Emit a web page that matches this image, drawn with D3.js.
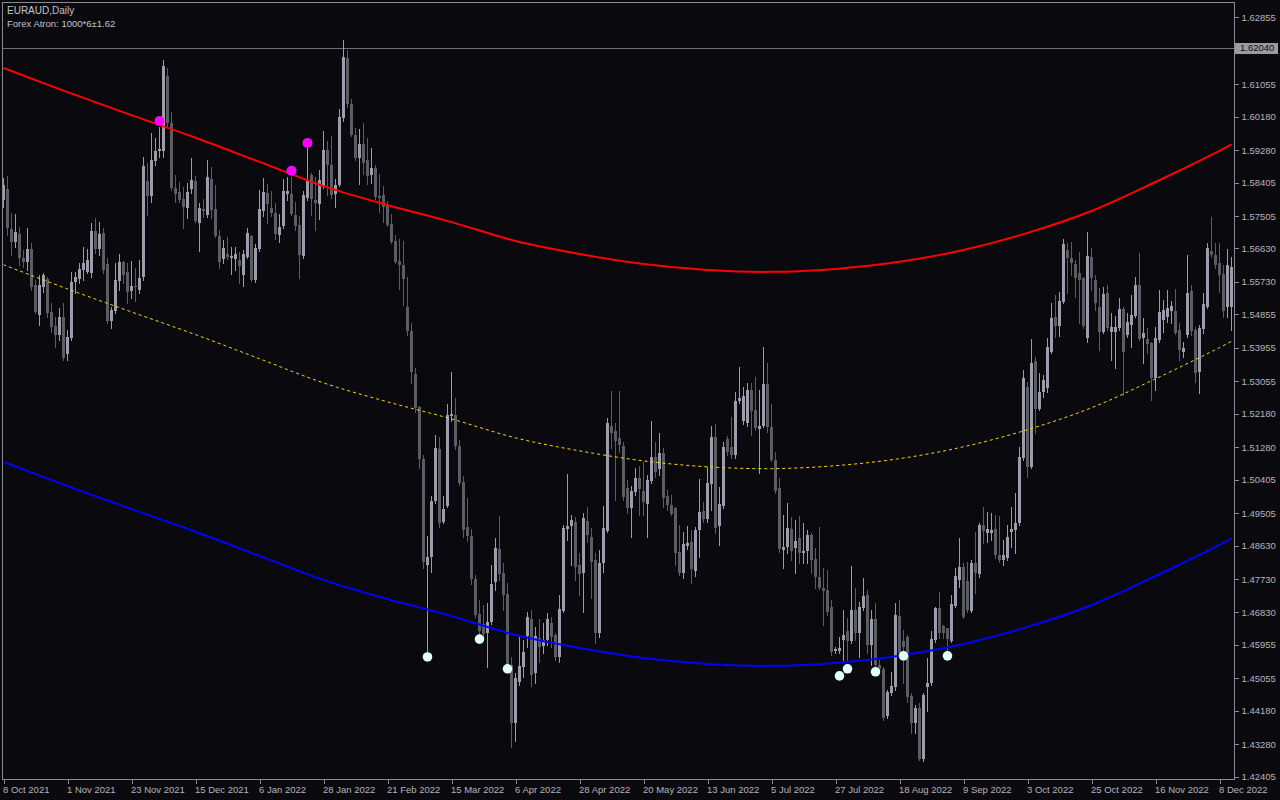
<!DOCTYPE html>
<html><head><meta charset="utf-8">
<script src="https://cdn.jsdelivr.net/npm/d3@7"></script>
<style>html,body{margin:0;padding:0;background:#0a0a0e;}svg{display:block;}</style>
</head><body><svg id="c" width="1280" height="800"></svg>
<script>
// ---------- DATA ----------
const symbolTitle = "EURAUD,Daily";
const indicatorTitle = "Forex Atron: 1000*6\u00b11.62";

const opens = [
1.5794,1.5823,1.5716,1.5680,1.5702,1.5637,1.5627,1.5662,1.5565,1.5484,
1.5559,1.5581,1.5492,1.5454,1.5430,1.5478,1.5379,1.5422,1.5573,1.5581,
1.5605,1.5600,1.5597,1.5710,1.5662,1.5705,1.5621,1.5468,1.5495,1.5575,
1.5627,1.5600,1.5548,1.5562,1.5551,1.5586,1.5845,1.5804,1.5899,1.5926,
1.5926,1.6127,1.6001,1.5826,1.5815,1.5796,1.5772,1.5823,1.5845,1.5732,
1.5769,1.5753,1.5850,1.5769,1.5697,1.5635,1.5648,1.5637,1.5635,1.5632,
1.5592,1.5640,1.5697,1.5578,1.5662,1.5764,1.5812,1.5772,1.5759,1.5699,
1.5724,1.5810,1.5810,1.5753,1.5726,1.5643,1.5799,1.5861,1.5794,1.5783,
1.5831,1.5928,1.5888,1.5810,1.5834,1.6014,1.6176,1.6052,1.5969,1.5907,
1.5944,1.5901,1.5861,1.5880,1.5804,1.5807,1.5778,1.5729,1.5683,1.5629,
1.5618,1.5505,1.5441,1.5325,1.5236,1.5096,1.4811,1.4832,1.4983,1.5123,
1.4927,1.4970,1.5212,1.5215,1.5131,1.5034,1.4913,1.4889,1.4773,1.4679,
1.4652,1.4627,1.4657,1.4765,1.4854,1.4789,1.4732,1.4541,1.4385,1.4496,
1.4536,1.4619,1.4665,1.4520,1.4614,1.4593,1.4609,1.4655,1.4622,1.4563,
1.4687,1.4908,1.4916,1.4927,1.4811,1.4789,1.4929,1.4886,1.4824,1.4627,
1.4816,1.4902,1.5185,1.5172,1.5153,1.5131,1.5018,1.4964,1.5007,1.5045,
1.5010,1.4975,1.5037,1.5102,1.5069,1.5112,1.4997,1.4972,1.4964,1.4846,
1.4789,1.4862,1.4873,1.4795,1.4905,1.4957,1.4935,1.5029,1.5155,1.4916,
1.4970,1.5150,1.5128,1.5107,1.5252,1.5198,1.5193,1.5282,1.5228,1.5177,
1.5185,1.5298,1.5182,1.5093,1.5018,1.4851,1.4859,1.4908,1.4856,1.4883,
1.4843,1.4849,1.4892,1.4827,1.4778,1.4749,1.4743,1.4697,1.4579,1.4579,
1.4609,1.4633,1.4606,1.4689,1.4627,1.4695,1.4730,1.4595,1.4665,1.4541,
1.4531,1.4404,1.4466,1.4482,1.4673,1.4606,1.4617,1.4458,1.4385,1.4426,
1.4288,1.4482,1.4493,1.4609,1.4695,1.4646,1.4641,1.4606,1.4700,1.4770,
1.4805,1.4768,1.4687,1.4816,1.4786,1.4918,1.4897,1.4897,1.4908,1.4838,
1.4824,1.4829,1.4900,1.4905,1.4924,1.5099,1.5290,1.5075,1.5360,1.5231,
1.5276,1.5287,1.5384,1.5478,1.5454,1.5519,1.5659,1.5637,1.5621,1.5597,
1.5583,1.5422,1.5640,1.5578,1.5505,1.5438,1.5543,1.5438,1.5438,1.5449,
1.5500,1.5430,1.5457,1.5481,1.5565,1.5422,1.5419,1.5409,1.5314,1.5417,
1.5470,1.5478,1.5495,1.5495,1.5443,1.5384,1.5430,1.5548,1.5443,1.5330,
1.5446,1.5505,1.5656,1.5645,1.5624,1.5594,1.5505,1.5505];

const highs = [
1.5853,1.5858,1.5759,1.5756,1.5721,1.5659,1.5718,1.5678,1.5578,1.5592,
1.5597,1.5586,1.5516,1.5478,1.5503,1.5516,1.5443,1.5600,1.5600,1.5624,
1.5667,1.5662,1.5732,1.5745,1.5734,1.5718,1.5637,1.5505,1.5624,1.5648,
1.5629,1.5624,1.5629,1.5610,1.5632,1.5909,1.5893,1.5974,1.5961,1.5990,
1.6171,1.6149,1.6031,1.5861,1.5842,1.5828,1.5839,1.5907,1.5858,1.5785,
1.5796,1.5901,1.5882,1.5834,1.5713,1.5686,1.5694,1.5667,1.5667,1.5654,
1.5659,1.5718,1.5699,1.5675,1.5820,1.5853,1.5837,1.5818,1.5785,1.5756,
1.5850,1.5855,1.5855,1.5788,1.5751,1.5818,1.5939,1.5866,1.5855,1.5874,
1.5979,1.5952,1.5966,1.5850,1.6039,1.6224,1.6198,1.6066,1.5987,1.5985,
1.6001,1.5961,1.5933,1.5888,1.5863,1.5831,1.5791,1.5756,1.5699,1.5689,
1.5683,1.5586,1.5462,1.5341,1.5239,1.5107,1.4889,1.4997,1.5161,1.5155,
1.4997,1.5244,1.5330,1.5260,1.5147,1.5050,1.4991,1.4908,1.4784,1.4716,
1.4703,1.4708,1.4811,1.4884,1.4943,1.4816,1.4762,1.4563,1.4520,1.4617,
1.4609,1.4684,1.4689,1.4644,1.4665,1.4655,1.4681,1.4671,1.4628,1.4730,
1.4918,1.5056,1.4946,1.4940,1.4843,1.4951,1.4967,1.4910,1.4843,1.4851,
1.4970,1.5207,1.5279,1.5193,1.5279,1.5142,1.5040,1.5024,1.5072,1.5078,
1.5088,1.5053,1.5198,1.5142,1.5166,1.5126,1.5013,1.4999,1.4967,1.4919,
1.4900,1.4916,1.4905,1.4913,1.5042,1.4981,1.5075,1.5185,1.5190,1.5021,
1.5142,1.5158,1.5209,1.5276,1.5344,1.5290,1.5301,1.5301,1.5317,1.5282,
1.5398,1.5355,1.5244,1.5115,1.5045,1.4945,1.4978,1.4940,1.4932,1.4943,
1.4924,1.4905,1.4897,1.4856,1.4913,1.4802,1.4797,1.4716,1.4590,1.4617,
1.4689,1.4668,1.4808,1.4749,1.4711,1.4776,1.4743,1.4689,1.4708,1.4555,
1.4536,1.4474,1.4523,1.4708,1.4716,1.4636,1.4622,1.4466,1.4434,1.4439,
1.4466,1.4560,1.4633,1.4697,1.4738,1.4649,1.4641,1.4730,1.4802,1.4883,
1.4816,1.4819,1.4824,1.4900,1.4924,1.4967,1.4954,1.4951,1.4946,1.4943,
1.4878,1.4918,1.4967,1.5005,1.5128,1.5336,1.5303,1.5419,1.5371,1.5328,
1.5322,1.5422,1.5516,1.5538,1.5546,1.5688,1.5678,1.5680,1.5632,1.5654,
1.5586,1.5707,1.5664,1.5592,1.5556,1.5559,1.5565,1.5489,1.5481,1.5530,
1.5505,1.5489,1.5538,1.5586,1.5651,1.5476,1.5449,1.5411,1.5452,1.5551,
1.5524,1.5551,1.5522,1.5554,1.5462,1.5411,1.5645,1.5565,1.5452,1.5457,
1.5543,1.5678,1.5748,1.5678,1.5678,1.5618,1.5662,1.5640];

const lows = [
1.5775,1.5699,1.5645,1.5667,1.5618,1.5613,1.5605,1.5551,1.5489,1.5457,
1.5546,1.5478,1.5438,1.5398,1.5417,1.5363,1.5363,1.5417,1.5543,1.5570,
1.5578,1.5597,1.5586,1.5651,1.5645,1.5597,1.5462,1.5449,1.5489,1.5551,
1.5570,1.5516,1.5530,1.5522,1.5543,1.5578,1.5753,1.5788,1.5888,1.5909,
1.5909,1.5990,1.5820,1.5788,1.5788,1.5718,1.5745,1.5812,1.5734,1.5656,
1.5748,1.5748,1.5745,1.5694,1.5610,1.5624,1.5635,1.5594,1.5605,1.5570,
1.5562,1.5637,1.5575,1.5573,1.5656,1.5751,1.5732,1.5751,1.5689,1.5680,
1.5718,1.5794,1.5753,1.5713,1.5583,1.5637,1.5794,1.5753,1.5713,1.5743,
1.5826,1.5807,1.5799,1.5775,1.5831,1.6006,1.6044,1.5966,1.5901,1.5837,
1.5864,1.5837,1.5839,1.5796,1.5761,1.5734,1.5724,1.5678,1.5624,1.5554,
1.5511,1.5430,1.5301,1.5223,1.5072,1.4802,1.4568,1.4792,1.4978,1.4913,
1.4924,1.4967,1.5199,1.5123,1.5026,1.4886,1.4875,1.4759,1.4670,1.4622,
1.4609,1.4536,1.4652,1.4743,1.4770,1.4689,1.4528,1.4320,1.4337,1.4488,
1.4509,1.4590,1.4485,1.4493,1.4550,1.4574,1.4595,1.4590,1.4555,1.4550,
1.4684,1.4878,1.4811,1.4770,1.4730,1.4684,1.4873,1.4722,1.4600,1.4617,
1.4792,1.4900,1.5126,1.4986,1.5115,1.4986,1.4951,1.4886,1.4999,1.4945,
1.4945,1.4886,1.5032,1.5048,1.5053,1.4967,1.4959,1.4945,1.4811,1.4784,
1.4776,1.4854,1.4762,1.4781,1.4832,1.4927,1.4927,1.4959,1.4897,1.4865,
1.4964,1.5107,1.5099,1.5099,1.5247,1.5190,1.5185,1.5161,1.5174,1.5058,
1.5182,1.5169,1.5091,1.5005,1.4846,1.4802,1.4843,1.4824,1.4789,1.4816,
1.4816,1.4816,1.4789,1.4749,1.4746,1.4649,1.4676,1.4568,1.4574,1.4574,
1.4555,1.4555,1.4601,1.4609,1.4563,1.4689,1.4574,1.4541,1.4533,1.4522,
1.4393,1.4399,1.4461,1.4474,1.4568,1.4493,1.4442,1.4358,1.4358,1.4286,
1.4283,1.4417,1.4488,1.4603,1.4614,1.4614,1.4574,1.4603,1.4697,1.4751,
1.4668,1.4684,1.4684,1.4735,1.4778,1.4870,1.4873,1.4878,1.4829,1.4819,
1.4811,1.4824,1.4859,1.4843,1.4918,1.5093,1.5048,1.5072,1.5166,1.5228,
1.5263,1.5276,1.5382,1.5425,1.5427,1.5516,1.5543,1.5592,1.5532,1.5462,
1.5449,1.5411,1.5551,1.5497,1.5390,1.5435,1.5443,1.5363,1.5341,1.5443,
1.5268,1.5425,1.5398,1.5478,1.5417,1.5355,1.5382,1.5255,1.5282,1.5411,
1.5438,1.5465,1.5462,1.5432,1.5363,1.5371,1.5425,1.5430,1.5303,1.5274,
1.5435,1.5503,1.5640,1.5610,1.5546,1.5478,1.5478,1.5443];

const closes = [
1.5834,1.5718,1.5680,1.5707,1.5637,1.5627,1.5662,1.5559,1.5492,1.5565,
1.5592,1.5489,1.5452,1.5430,1.5478,1.5368,1.5425,1.5573,1.5586,1.5608,
1.5624,1.5632,1.5710,1.5662,1.5702,1.5605,1.5468,1.5497,1.5578,1.5627,
1.5592,1.5546,1.5562,1.5559,1.5583,1.5885,1.5804,1.5901,1.5926,1.5931,
1.6154,1.6001,1.5826,1.5810,1.5794,1.5775,1.5815,1.5847,1.5737,1.5772,
1.5764,1.5855,1.5767,1.5697,1.5627,1.5664,1.5640,1.5643,1.5648,1.5616,
1.5648,1.5705,1.5578,1.5664,1.5769,1.5815,1.5783,1.5759,1.5702,1.5721,
1.5818,1.5818,1.5756,1.5724,1.5645,1.5807,1.5847,1.5796,1.5785,1.5847,
1.5928,1.5888,1.5807,1.5834,1.6017,1.6179,1.6052,1.5969,1.5907,1.5944,
1.5893,1.5858,1.5880,1.5802,1.5799,1.5775,1.5726,1.5680,1.5627,1.5618,
1.5581,1.5441,1.5330,1.5233,1.5096,1.4819,1.4832,1.4983,1.5126,1.4924,
1.4962,1.5215,1.5217,1.5131,1.5031,1.4905,1.4889,1.4773,1.4676,1.4633,
1.4625,1.4657,1.4760,1.4856,1.4786,1.4730,1.4541,1.4385,1.4506,1.4539,
1.4577,1.4671,1.4514,1.4619,1.4590,1.4609,1.4665,1.4617,1.4563,1.4692,
1.4910,1.4916,1.4932,1.4805,1.4786,1.4937,1.4892,1.4819,1.4627,1.4816,
1.4910,1.5193,1.5166,1.5145,1.5134,1.4994,1.4964,1.5010,1.5045,1.5015,
1.4981,1.5040,1.5102,1.5061,1.5112,1.4991,1.4972,1.4948,1.4843,1.4789,
1.4867,1.4870,1.4800,1.4905,1.4954,1.4935,1.5032,1.5155,1.4910,1.4975,
1.5128,1.5115,1.5107,1.5252,1.5260,1.5266,1.5282,1.5225,1.5180,1.5185,
1.5298,1.5182,1.5093,1.5010,1.4854,1.4859,1.4910,1.4849,1.4875,1.4843,
1.4849,1.4892,1.4824,1.4778,1.4749,1.4741,1.4684,1.4576,1.4584,1.4587,
1.4622,1.4606,1.4689,1.4627,1.4697,1.4727,1.4595,1.4665,1.4541,1.4531,
1.4399,1.4469,1.4485,1.4676,1.4574,1.4590,1.4455,1.4385,1.4426,1.4288,
1.4461,1.4493,1.4611,1.4695,1.4627,1.4627,1.4611,1.4706,1.4781,1.4805,
1.4671,1.4689,1.4816,1.4789,1.4918,1.4902,1.4908,1.4905,1.4838,1.4824,
1.4838,1.4886,1.4908,1.4924,1.5102,1.5314,1.5075,1.5355,1.5231,1.5276,
1.5309,1.5398,1.5476,1.5454,1.5522,1.5675,1.5637,1.5624,1.5583,1.5578,
1.5454,1.5643,1.5583,1.5516,1.5438,1.5540,1.5449,1.5452,1.5452,1.5500,
1.5384,1.5465,1.5484,1.5565,1.5419,1.5435,1.5406,1.5314,1.5422,1.5492,
1.5497,1.5503,1.5508,1.5435,1.5390,1.5395,1.5543,1.5441,1.5328,1.5449,
1.5514,1.5664,1.5645,1.5618,1.5592,1.5495,1.5618,1.5613];

// Band lines (Forex Atron), sampled at these bar indices
const bandBars = [0,16,32,48,64,80,96,112,128,144,160,176,192,208,224,240,256,272,288,304,307];
const upperBand = [1.6149,1.6084,1.6022,1.5961,1.5896,1.5831,1.5780,1.5734,1.5683,1.5648,1.5621,1.5605,1.5600,1.5608,1.5627,1.5659,1.5705,1.5764,1.5842,1.5926,1.5943];
const middleBand = [1.5619,1.5554,1.5492,1.5431,1.5366,1.5301,1.5250,1.5204,1.5153,1.5118,1.5091,1.5075,1.5070,1.5078,1.5097,1.5129,1.5175,1.5234,1.5312,1.5396,1.5413];
const lowerBand = [1.5088,1.5023,1.4961,1.4900,1.4835,1.4770,1.4719,1.4673,1.4622,1.4587,1.4560,1.4544,1.4539,1.4547,1.4566,1.4598,1.4644,1.4703,1.4781,1.4865,1.4882];

// Signal dots
const sellBars = [39,72,76];
const sellPrices = [1.6006,1.5872,1.5947];
const buyBars = [106,119,126,209,211,218,225,236];
const buyPrices = [1.4563,1.4611,1.4531,1.4512,1.4531,1.4523,1.4566,1.4566];

// Horizontal line level
const hLineLevel = 1.62040;

// Axis ticks
const yTickValues = [1.62855,1.61055,1.60180,1.59280,1.58405,1.57505,1.56630,1.55730,1.54855,1.53955,1.53055,1.52180,1.51280,1.50405,1.49505,1.48630,1.47730,1.46830,1.45955,1.45055,1.44180,1.43280,1.42405];
const xTickBars = [0,16,32,48,64,80,96,112,128,144,160,176,192,208,224,240,256,272,288,304];
const xTickLabels = ["8 Oct 2021","1 Nov 2021","23 Nov 2021","15 Dec 2021","6 Jan 2022","28 Jan 2022","21 Feb 2022","15 Mar 2022","6 Apr 2022","28 Apr 2022","20 May 2022","13 Jun 2022","5 Jul 2022","27 Jul 2022","18 Aug 2022","9 Sep 2022","3 Oct 2022","25 Oct 2022","16 Nov 2022","8 Dec 2022"];

// ---------- DRAW ----------
const W = 1280, H = 800;
const plotL = 2, plotR = 1234, plotT = 2, plotB = 779;
const BG = "#0a0a0e", FRAME = "#8a8a92", TXT = "#b4b4bc";
const BULL = "#9c9caa", BEAR = "#5c5c63";
const FONT = "'Liberation Sans', Arial, sans-serif";

const svg = d3.select("#c");
svg.append("rect").attr("width", W).attr("height", H).attr("fill", BG);

const x = d3.scaleLinear().domain([0, 307]).range([3.5, 1231.5]);
const y = d3.scaleLinear().domain([1.42405, 1.62855]).range([776.7, 17.3]);

svg.append("clipPath").attr("id", "plotclip")
  .append("rect").attr("x", plotL).attr("y", plotT).attr("width", plotR - plotL).attr("height", plotB - plotT);

const plot = svg.append("g").attr("clip-path", "url(#plotclip)");

// horizontal level line
plot.append("line")
  .attr("x1", plotL).attr("x2", plotR)
  .attr("y1", Math.round(y(hLineLevel)) + 0.5).attr("y2", Math.round(y(hLineLevel)) + 0.5)
  .attr("stroke", "#6e6e76").attr("stroke-width", 1);

// candles
const idx = d3.range(opens.length);
const cg = plot.append("g").attr("shape-rendering", "crispEdges");
cg.selectAll("line.wick").data(idx).join("line")
  .attr("class", "wick")
  .attr("x1", i => Math.floor(x(i)) + 0.5).attr("x2", i => Math.floor(x(i)) + 0.5)
  .attr("y1", i => Math.round(y(highs[i]))).attr("y2", i => Math.round(y(lows[i])) + 1)
  .attr("stroke", i => closes[i] >= opens[i] ? BULL : BEAR).attr("stroke-width", 1);
cg.selectAll("rect.body").data(idx).join("rect")
  .attr("class", "body")
  .attr("x", i => Math.floor(x(i)) - 1)
  .attr("width", 3)
  .attr("y", i => Math.round(y(Math.max(opens[i], closes[i]))))
  .attr("height", i => Math.max(1, Math.round(y(Math.min(opens[i], closes[i]))) - Math.round(y(Math.max(opens[i], closes[i])))))
  .attr("fill", i => closes[i] >= opens[i] ? BULL : BEAR);

// bands
const bandLine = arr => d3.line()
  .x((d, k) => x(bandBars[k]))
  .y(d => y(d))
  .curve(d3.curveCatmullRom)(arr);

plot.append("path").attr("d", bandLine(middleBand))
  .attr("fill", "none").attr("stroke", "#ffd700").attr("stroke-width", 1)
  .attr("stroke-dasharray", "3,3");
plot.append("path").attr("d", bandLine(upperBand))
  .attr("fill", "none").attr("stroke", "#ff0000").attr("stroke-width", 2);
plot.append("path").attr("d", bandLine(lowerBand))
  .attr("fill", "none").attr("stroke", "#0000ff").attr("stroke-width", 2);

// signal dots
plot.selectAll("circle.sell").data(sellBars).join("circle")
  .attr("class", "sell")
  .attr("cx", b => x(b)).attr("cy", (b, k) => y(sellPrices[k])).attr("r", 5)
  .attr("fill", "#ff00ff");
plot.selectAll("circle.buy").data(buyBars).join("circle")
  .attr("class", "buy")
  .attr("cx", b => x(b)).attr("cy", (b, k) => y(buyPrices[k])).attr("r", 4.8)
  .attr("fill", "#e0ffff");

// frame
svg.append("rect")
  .attr("x", plotL + 0.5).attr("y", plotT + 0.5)
  .attr("width", plotR - plotL).attr("height", plotB - plotT)
  .attr("fill", "none").attr("stroke", FRAME).attr("stroke-width", 1)
  .attr("shape-rendering", "crispEdges");

// right price axis
const yAxis = d3.axisRight(y).tickValues(yTickValues).tickSize(4).tickPadding(3)
  .tickFormat(d3.format(".5f"));
const yg = svg.append("g").attr("transform", `translate(${plotR + 0.5},0)`).call(yAxis);
yg.select(".domain").remove();
yg.selectAll(".tick line").attr("stroke", FRAME).attr("shape-rendering", "crispEdges");
yg.selectAll(".tick text").attr("fill", TXT).attr("font-family", FONT).attr("font-size", "9.5px");

// level label on axis
const hy = y(hLineLevel);
svg.append("rect").attr("x", plotR + 1).attr("y", Math.round(hy) - 5).attr("width", 43).attr("height", 11)
  .attr("fill", "#9a9aa2");
svg.append("text").attr("x", plotR + 6).attr("y", hy).attr("dy", "0.35em")
  .attr("fill", "#0a0a0e").attr("font-family", FONT).attr("font-size", "9.5px")
  .text(d3.format(".5f")(hLineLevel));

// bottom time axis
const xAxis = d3.axisBottom(x).tickValues(xTickBars).tickSize(4).tickPadding(3)
  .tickFormat((d, k) => xTickLabels[k]);
const xg = svg.append("g").attr("transform", `translate(0,${plotB + 0.5})`).call(xAxis);
xg.select(".domain").remove();
xg.selectAll(".tick line").attr("stroke", FRAME).attr("shape-rendering", "crispEdges");
xg.selectAll(".tick text").attr("fill", TXT).attr("font-family", FONT).attr("font-size", "9.5px")
  .attr("text-anchor", "start").attr("x", -1);

// titles
svg.append("text").attr("x", 7).attr("y", 14).attr("fill", "#c4c4c8")
  .attr("font-family", FONT).attr("font-size", "10px").text(symbolTitle);
svg.append("text").attr("x", 7).attr("y", 27).attr("fill", "#c4c4c8")
  .attr("font-family", FONT).attr("font-size", "9.5px").text(indicatorTitle);
</script>
</body></html>
